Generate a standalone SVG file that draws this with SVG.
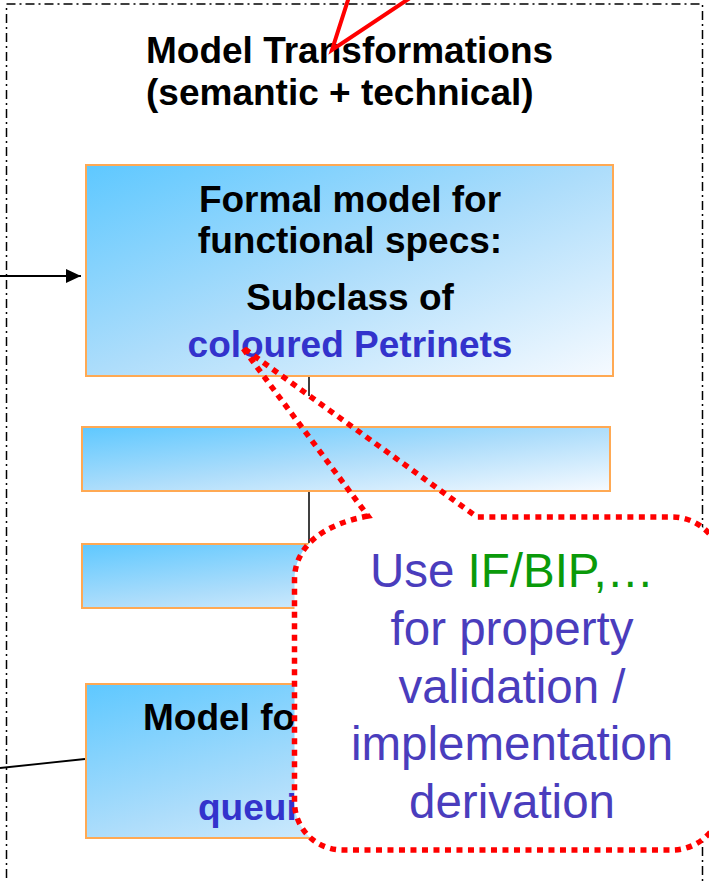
<svg xmlns="http://www.w3.org/2000/svg" width="709" height="881" viewBox="0 0 709 881">
<defs>
<linearGradient id="boxFill" x1="0" y1="0" x2="1" y2="1">
<stop offset="0" stop-color="#5EC8FF"/>
<stop offset="0.5" stop-color="#ADDDFB"/>
<stop offset="1" stop-color="#F6FAFF"/>
</linearGradient>
<marker id="arrow" markerWidth="16" markerHeight="14" refX="15" refY="7" orient="auto" markerUnits="userSpaceOnUse">
<path d="M0,0 L15,7 L0,14 Z" fill="#000"/>
</marker>
<style>
.frame{fill:none;stroke:#000;stroke-width:1.5;stroke-dasharray:9 4 2 4}
.box{fill:url(#boxFill);stroke:#FFA953;stroke-width:2}
.lbl{font-family:"Liberation Sans",Arial,sans-serif;font-weight:bold;font-size:37px;fill:#000}
.blue{fill:#3333CC}
.conn{stroke:#000;stroke-width:1.5;fill:none}
.thick{stroke-width:2.2}
.red{stroke:#FF0000;stroke-width:4;fill:none}
.dots{fill:none;stroke:#FF0000;stroke-width:5.5;stroke-dasharray:6 5.5}
.note{font-family:"Liberation Sans",Arial,sans-serif;font-size:47.5px;fill:#4A3DBD}
.green{fill:#0A9A0A}
</style>
</defs>
<rect class="frame" x="6.5" y="4" width="696" height="900"/>
<g id="title">
<text class="lbl" x="146" y="63">Model Transformations</text>
<text class="lbl" x="146" y="105">(semantic + technical)</text>
</g>
<g id="pointer-top">
<path class="red" d="M349.6,-5 L332,50 L414.5,-5"/>
</g>
<g id="connectors">
<line class="conn thick" x1="0" y1="276" x2="81" y2="276" marker-end="url(#arrow)"/>
<line class="conn" x1="0" y1="768" x2="85" y2="759" style="stroke-width:1.8"/>
<line class="conn" x1="309" y1="377" x2="309" y2="396"/>
<line class="conn" x1="309" y1="491" x2="309" y2="544"/>
</g>
<g id="box3">
<rect class="box" x="82" y="544" width="528" height="64"/>
</g>
<g id="box4">
<rect class="box" x="86" y="684" width="527" height="154"/>
<text class="lbl" x="143" y="730">Model  fo</text>
<text class="lbl blue" x="198" y="820">queui</text>
</g>
<g id="box1">
<rect class="box" x="86" y="165" width="527" height="211"/>
<text class="lbl" x="350" y="212" text-anchor="middle">Formal model for</text>
<text class="lbl" x="350" y="253" text-anchor="middle">functional specs:</text>
<text class="lbl" x="350" y="310" text-anchor="middle">Subclass of</text>
<text class="lbl blue" x="350" y="357" text-anchor="middle">coloured Petrinets</text>
</g>
<g id="box2">
<rect class="box" x="82" y="427" width="528" height="64"/>
</g>
<g id="callout">
<path fill="#FFFFFF" d="M368,516 C325,524 294.5,545 294.5,580 L294.5,802 A48,48 0 0 0 342.5,850 L672,850 A50,50 0 0 0 722,800 L722,567 A50,50 0 0 0 672,517 L477,517 Z"/>
<path class="dots" d="M368,516 C325,524 294.5,545 294.5,580 L294.5,802 A48,48 0 0 0 342.5,850 L672,850 A50,50 0 0 0 722,800 L722,567 A50,50 0 0 0 672,517 L477,517 L242,347 Z"/>
<text class="note" x="512" y="587" text-anchor="middle">Use <tspan class="green">IF/BIP,…</tspan></text>
<text class="note" x="512" y="645" text-anchor="middle">for property</text>
<text class="note" x="512" y="703" text-anchor="middle">validation /</text>
<text class="note" x="512" y="760" text-anchor="middle">implementation</text>
<text class="note" x="512" y="818" text-anchor="middle">derivation</text>
</g>
</svg>
